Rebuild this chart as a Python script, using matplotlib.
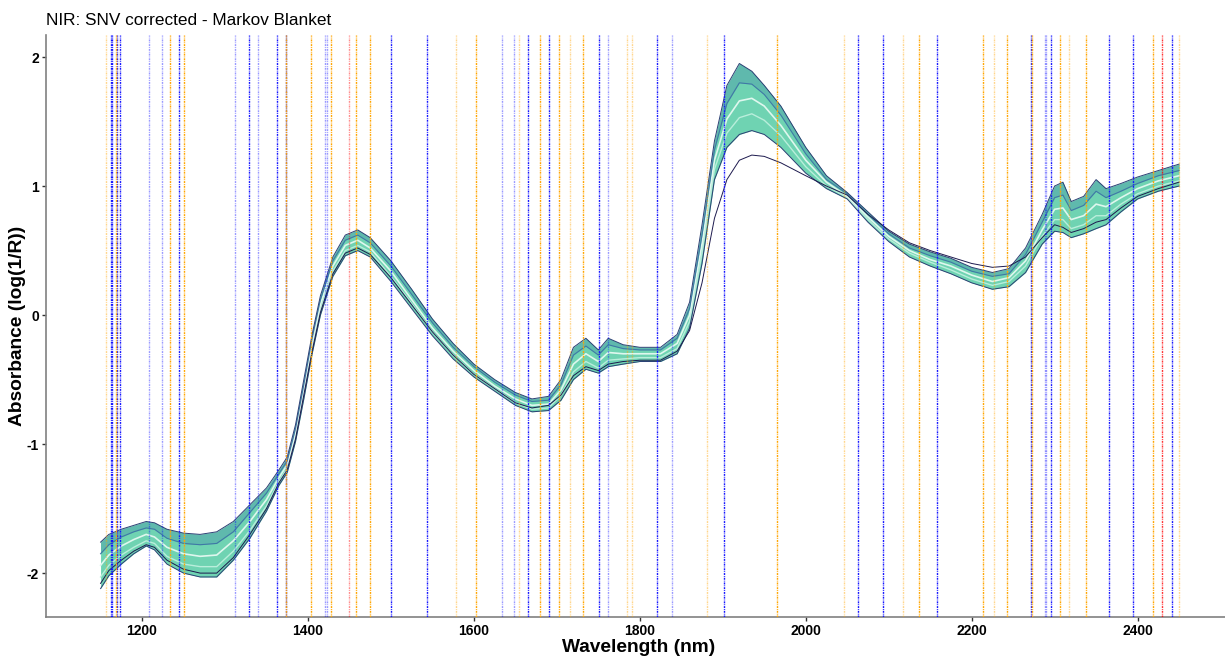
import matplotlib
matplotlib.use("Agg")
import matplotlib.pyplot as plt

# ---------------- data ----------------
wavelength = [1150,1160,1175,1190,1205,1215,1230,1250,1270,1290,1310,1330,1350,1365,1375,
              1385,1395,1405,1415,1430,1445,1460,1475,1500,1525,1550,1575,1600,1625,1650,
              1670,1690,1705,1720,1735,1750,1762,1780,1800,1825,1845,1860,1875,1890,1905,
              1920,1935,1950,1970,2000,2025,2050,2075,2100,2125,2150,2175,2200,2225,2245,
              2265,2285,2300,2310,2320,2335,2350,2362,2380,2400,2425,2450]

band_upper = [-1.76,-1.70,-1.66,-1.63,-1.60,-1.61,-1.66,-1.69,-1.70,-1.68,-1.60,-1.47,-1.34,-1.20,-1.10,
              -0.85,-0.50,-0.15,0.15,0.45,0.62,0.66,0.60,0.42,0.20,-0.03,-0.22,-0.38,-0.50,-0.60,
              -0.65,-0.63,-0.50,-0.25,-0.18,-0.27,-0.18,-0.23,-0.25,-0.25,-0.15,0.10,0.70,1.35,1.78,
              1.95,1.89,1.78,1.62,1.30,1.08,0.95,0.80,0.65,0.55,0.49,0.44,0.37,0.33,0.36,
              0.52,0.78,1.00,1.03,0.88,0.92,1.05,0.98,1.02,1.07,1.12,1.17]

spec_high = [-1.85,-1.78,-1.72,-1.68,-1.65,-1.66,-1.73,-1.77,-1.78,-1.77,-1.68,-1.53,-1.38,-1.23,-1.13,
             -0.88,-0.54,-0.18,0.12,0.42,0.58,0.62,0.56,0.38,0.16,-0.06,-0.25,-0.40,-0.52,-0.62,
             -0.67,-0.66,-0.54,-0.31,-0.24,-0.31,-0.23,-0.26,-0.27,-0.27,-0.18,0.05,0.62,1.28,1.64,
             1.80,1.79,1.71,1.55,1.25,1.05,0.94,0.78,0.63,0.52,0.46,0.41,0.34,0.30,0.32,
             0.47,0.72,0.91,0.93,0.81,0.85,0.96,0.91,0.96,1.02,1.08,1.12]

spec_mean = [-1.94,-1.86,-1.79,-1.74,-1.70,-1.72,-1.80,-1.85,-1.87,-1.86,-1.75,-1.60,-1.43,-1.26,-1.16,
             -0.92,-0.58,-0.22,0.08,0.38,0.54,0.58,0.52,0.34,0.12,-0.10,-0.28,-0.43,-0.55,-0.65,
             -0.70,-0.69,-0.58,-0.38,-0.30,-0.36,-0.29,-0.30,-0.30,-0.30,-0.22,0.00,0.55,1.20,1.52,
             1.66,1.68,1.62,1.47,1.20,1.03,0.92,0.76,0.61,0.50,0.43,0.38,0.31,0.26,0.29,
             0.42,0.66,0.82,0.83,0.74,0.77,0.86,0.84,0.91,0.98,1.04,1.08]

spec_low = [-2.03,-1.94,-1.86,-1.80,-1.75,-1.77,-1.87,-1.93,-1.95,-1.95,-1.83,-1.67,-1.48,-1.29,-1.19,
            -0.95,-0.62,-0.26,0.04,0.34,0.50,0.54,0.49,0.30,0.09,-0.13,-0.31,-0.46,-0.57,-0.68,
            -0.73,-0.72,-0.62,-0.44,-0.36,-0.41,-0.35,-0.34,-0.33,-0.33,-0.26,-0.05,0.48,1.13,1.41,
            1.53,1.56,1.51,1.39,1.15,1.00,0.91,0.74,0.59,0.48,0.41,0.35,0.28,0.23,0.26,
            0.38,0.61,0.74,0.74,0.67,0.70,0.77,0.77,0.86,0.94,1.00,1.04]

band_lower = [-2.12,-2.02,-1.93,-1.85,-1.79,-1.82,-1.93,-2.00,-2.03,-2.03,-1.90,-1.73,-1.52,-1.32,-1.22,
              -0.98,-0.65,-0.30,0.00,0.30,0.46,0.50,0.45,0.26,0.05,-0.16,-0.34,-0.48,-0.59,-0.70,
              -0.75,-0.74,-0.66,-0.50,-0.42,-0.45,-0.40,-0.38,-0.36,-0.36,-0.30,-0.10,0.40,1.05,1.30,
              1.40,1.43,1.40,1.30,1.10,0.98,0.90,0.72,0.57,0.45,0.38,0.32,0.25,0.20,0.22,
              0.33,0.55,0.65,0.64,0.60,0.63,0.67,0.70,0.80,0.90,0.96,1.00]

spec_outlier = [-2.08,-1.98,-1.90,-1.83,-1.78,-1.80,-1.90,-1.97,-2.00,-2.00,-1.88,-1.70,-1.50,-1.30,-1.20,
                -0.96,-0.62,-0.28,0.02,0.32,0.48,0.52,0.47,0.29,0.08,-0.13,-0.31,-0.46,-0.57,-0.68,
                -0.72,-0.70,-0.62,-0.47,-0.40,-0.43,-0.38,-0.36,-0.35,-0.35,-0.28,-0.12,0.25,0.75,1.05,
                1.20,1.24,1.23,1.18,1.08,1.00,0.93,0.78,0.66,0.56,0.50,0.45,0.40,0.37,0.38,
                0.45,0.60,0.70,0.68,0.64,0.67,0.72,0.74,0.83,0.92,0.98,1.03]

# selected wavelengths (Markov blanket) drawn as vertical lines
blue_strong = [1162,1164,1170,1173,1245,1329,1363,1373,1500,1543,1665,1691,1751,1821,1902,
               2063,2093,2158,2271,2296,2365,2395,2442]
blue_weak = [1208,1224,1312,1340,1421,1423,1634,1648,1762,1839,2288,2290]
orange_strong = [1169,1234,1250,1373,1404,1428,1458,1475,1603,1680,1703,1731,1965,2136,
                 2214,2243,2273,2306,2338,2419]
orange_weak = [1156,1578,1654,1716,1785,1791,1881,2046,2117,2227,2317,2450]
red_strong = [2429]
red_weak = [1450]

title = "NIR: SNV corrected - Markov Blanket"
x_label = "Wavelength (nm)"
y_label = "Absorbance (log(1/R))"
x_ticks = [1200, 1400, 1600, 1800, 2000, 2200, 2400]
y_ticks = [-2, -1, 0, 1, 2]

# ---------------- figure ----------------
plt.rcParams['font.family'] = ['Liberation Sans', 'DejaVu Sans']
fig = plt.figure(figsize=(12.25, 6.56), dpi=100)
ax = fig.add_axes([0.0376, 0.0595, 0.9624, 0.887])

ax.fill_between(wavelength, band_lower, band_upper, color="#6fd3b2", linewidth=0, zorder=1)
ax.fill_between(wavelength, spec_high, band_upper, color="#5fb9ad", linewidth=0, zorder=1)
ax.plot(wavelength, spec_low, color="#b9eedb", lw=1.0, zorder=2)
ax.plot(wavelength, spec_mean, color="#dff7ee", lw=1.2, zorder=2)
ax.plot(wavelength, spec_high, color="#3f78a6", lw=0.8, zorder=2)
ax.plot(wavelength, band_upper, color="#2b3f74", lw=0.7, zorder=3)
ax.plot(wavelength, band_lower, color="#2b3f74", lw=0.7, zorder=3)
ax.plot(wavelength, spec_outlier, color="#1d1a4e", lw=0.7, zorder=3)

dash = (0, (1.4, 0.7, 0.6, 0.7))
for xs, col, a in [(blue_weak, "#0000ff", 0.4), (orange_weak, "#ffa500", 0.45),
                   (red_weak, "#ff0000", 0.45), (blue_strong, "#1515ff", 1.0),
                   (orange_strong, "#ffa500", 1.0), (red_strong, "#ff0000", 0.8)]:
    for x in xs:
        ax.axvline(x, color=col, alpha=a, lw=1.0, linestyle=dash, zorder=4)

ax.set_xlim(1084.3, 2505.4)
ax.set_ylim(-2.34, 2.17)
ax.set_xticks(x_ticks)
ax.set_yticks(y_ticks)
ax.set_xticklabels([str(v) for v in x_ticks], fontweight="bold", fontsize=10)
ax.set_yticklabels([str(v) for v in y_ticks], fontweight="bold", fontsize=10)
ax.tick_params(axis="both", length=3, width=1, color="#333333", pad=2)
for s in ["top", "right"]:
    ax.spines[s].set_visible(False)
for s in ["left", "bottom"]:
    ax.spines[s].set_color("#808080")
    ax.spines[s].set_linewidth(1.2)
ax.set_xlabel(x_label, fontweight="bold", fontsize=13.8, va="center")
ax.xaxis.set_label_coords(0.503, -0.052)
ax.set_ylabel(y_label, fontweight="bold", fontsize=13.8, va="center")
ax.yaxis.set_label_coords(-0.0246, 0.5)
fig.text(0.0376, 0.968, title, fontsize=12.4, ha="left", va="center")

fig.savefig("out.png", dpi=100)
